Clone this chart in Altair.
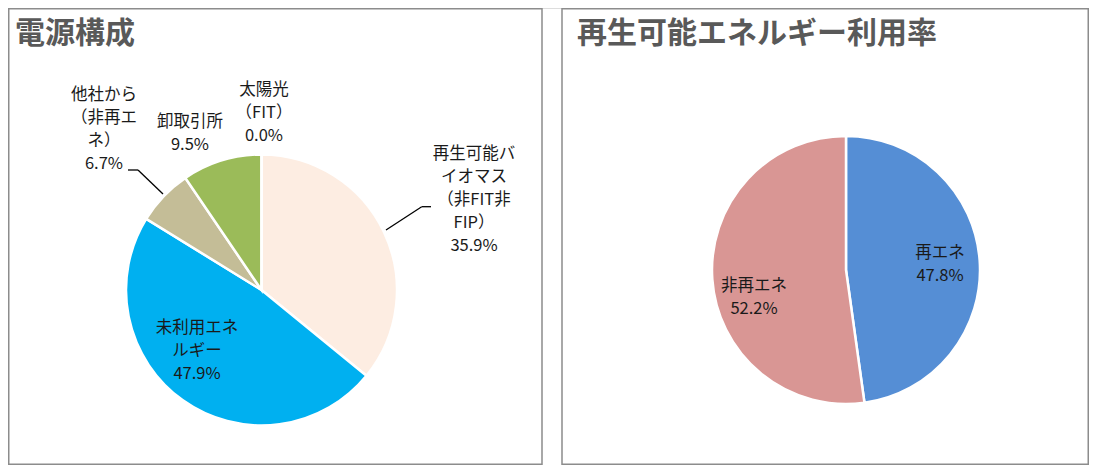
import altair as alt
import pandas as pd

# ---------------- data ----------------
mix_categories = ["再生可能バイオマス（非FIT非FIP）", "未利用エネルギー", "他社から（非再エネ）", "卸取引所", "太陽光（FIT）"]
mix_values = [35.9, 47.9, 6.7, 9.5, 0.0]
mix_label_lines = [
    ["再生可能バ", "イオマス", "（非FIT非", "FIP）", "35.9%"],
    ["未利用エネ", "ルギー", "47.9%"],
    ["他社から", "（非再エ", "ネ）", "6.7%"],
    ["卸取引所", "9.5%"],
    ["太陽光", "（FIT）", "0.0%"],
]

re_categories = ["再エネ", "非再エネ"]
re_values = [47.8, 52.2]
re_label_lines = [
    ["再エネ", "47.8%"],
    ["非再エネ", "52.2%"],
]

titles = ["電源構成", "再生可能エネルギー利用率"]

# ---------------- styles / layout ----------------
mix_colors = ["#FDEDE2", "#00B0F0", "#C4BD97", "#9BBB59", "#F79646"]
re_colors = ["#558ED5", "#D99694"]

W, H = 1081, 457
OFF = 8  # page margin
LINE_H = 23
FONT = "Noto Sans CJK JP"

left_center = (261.5 - OFF, 290 - OFF)
left_r = 135.5
right_center = (846 - OFF, 270 - OFF)
right_r = 134

# first-line centres of each label (page coordinates)
mix_label_pos = [(474, 154), (197, 328), (104, 95), (190, 122), (264, 90)]
re_label_pos = [(940, 253), (754, 286)]

title_pos = [(15, 33.5), (577, 33.5)]

# ---------------- tables ----------------
mix_df = pd.DataFrame({
    "cat": mix_categories, "val": mix_values,
    "col": mix_colors, "ord": list(range(len(mix_categories))),
})
re_df = pd.DataFrame({
    "cat": re_categories, "val": re_values,
    "col": re_colors, "ord": list(range(len(re_categories))),
})

rows = []
for lines, (px, py) in zip(mix_label_lines + re_label_lines, mix_label_pos + re_label_pos):
    for i, t in enumerate(lines):
        rows.append({"t": t, "x": px - OFF, "y": py - OFF + i * LINE_H})
labels_df = pd.DataFrame(rows)

title_df = pd.DataFrame({
    "t": titles,
    "x": [p[0] - OFF for p in title_pos],
    "y": [p[1] - OFF for p in title_pos],
})

frames_df = pd.DataFrame({
    "x1": [0.75, 554], "x2": [534, W - 0.75],
    "y1": [0.75, 0.75], "y2": [H - 0.75, H - 0.75],
})

leaders = [
    [(128, 170), (138, 170), (163, 194)],
    [(386, 230), (421.7, 206.7), (431, 206.7)],
]
seg_rows = []
for pts in leaders:
    for a, b in zip(pts[:-1], pts[1:]):
        seg_rows.append({"x1": a[0] - OFF, "y1": a[1] - OFF, "x2": b[0] - OFF, "y2": b[1] - OFF})
seg_df = pd.DataFrame(seg_rows)

# ---------------- marks ----------------
def pie(df, center, r):
    return alt.Chart(df).mark_arc(radius=r, stroke="white", strokeWidth=2.5).encode(
        theta=alt.Theta("val:Q", stack=True),
        order=alt.Order("ord:Q"),
        fill=alt.Fill("col:N", scale=None),
        x=alt.value(center[0]),
        y=alt.value(center[1]),
    )

left_pie = pie(mix_df, left_center, left_r)
right_pie = pie(re_df, right_center, right_r)

frames = alt.Chart(frames_df).mark_rect(filled=False, stroke="#8C8C8C", strokeWidth=1.5).encode(
    x=alt.X("x1:Q", scale=None), x2="x2:Q",
    y=alt.Y("y1:Q", scale=None), y2="y2:Q",
)

segs = alt.Chart(seg_df).mark_rule(color="#000000", strokeWidth=1.3).encode(
    x=alt.X("x1:Q", scale=None), x2="x2:Q",
    y=alt.Y("y1:Q", scale=None), y2="y2:Q",
)

label_text = alt.Chart(labels_df).mark_text(
    font=FONT, fontSize=16.5, color="#1A1A1A", align="center", baseline="middle"
).encode(
    x=alt.X("x:Q", scale=None), y=alt.Y("y:Q", scale=None), text="t:N"
)

title_text = alt.Chart(title_df).mark_text(
    font=FONT, fontSize=30, fontWeight="bold", color="#595959", align="left", baseline="middle"
).encode(
    x=alt.X("x:Q", scale=None), y=alt.Y("y:Q", scale=None), text="t:N"
)

chart = alt.layer(
    frames, left_pie, right_pie, segs, label_text, title_text
).properties(
    width=W, height=H, padding=0,
    autosize=alt.AutoSizeParams(type="fit", contains="padding"),
).configure_view(stroke=None).configure(background="white")

chart.save("out.html", embed_options={"renderer": "svg", "actions": False})
